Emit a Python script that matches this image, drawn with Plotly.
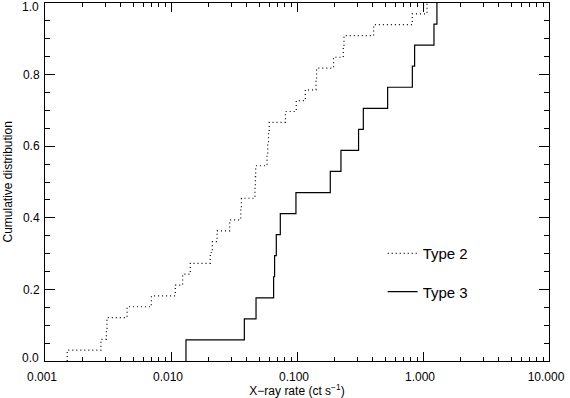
import numpy as np
import plotly.graph_objects as go

# X-ray rates (ct/s), sorted
TYPE2_RATES = [
    0.00150, 0.00278, 0.00307, 0.00310, 0.00448, 0.00698, 0.01082, 0.01236,
    0.01423, 0.0205, 0.0213, 0.0232, 0.0292, 0.0358, 0.0362, 0.0464,
    0.0467, 0.0470, 0.0578, 0.0586, 0.0594, 0.0602, 0.0810, 0.0987,
    0.1164, 0.1415, 0.1430, 0.195, 0.233, 0.236, 0.4055, 0.822, 1.076,
]
TYPE3_RATES = [
    0.01315, 0.0382, 0.0473, 0.0652, 0.0664, 0.0685, 0.0737, 0.0981,
    0.1837, 0.2233, 0.308, 0.336, 0.524, 0.823, 0.858, 1.222, 1.29,
]

X_TICKS = [0.001, 0.01, 0.1, 1, 10]
X_TICKTEXT = ["0.001", "0.010", "0.100", "1.000", "10.000"]
X_MINOR = [m * d for d in (0.001, 0.01, 0.1, 1) for m in range(2, 10)]

Y_TICKS = [0.2, 0.4, 0.6, 0.8]
Y_TICKTEXT = ["0.2", "0.4", "0.6", "0.8"]
# end labels are nudged inward like the original, so they are drawn as annotations
Y_END_LABELS = [(0.0, "0.0", 3), (1.0, "1.0", -4)]

FONT = "Liberation Sans, Arial, Helvetica, sans-serif"


def ecdf(rates):
    """Step-curve points: start at 0, rise at each sorted rate."""
    x = np.sort(np.asarray(rates, dtype=float))
    y = np.arange(1, len(x) + 1) / len(x)
    return np.concatenate([[x[0]], x]), np.concatenate([[0.0], y])


fig = go.Figure()

x2, y2 = ecdf(TYPE2_RATES)
fig.add_trace(
    go.Scatter(
        x=x2, y=y2, mode="lines", name="Type 2", line_shape="hv",
        line=dict(color="black", width=1.2, dash="1px,3px"),
        legend="legend",
    )
)
x3, y3 = ecdf(TYPE3_RATES)
fig.add_trace(
    go.Scatter(
        x=x3, y=y3, mode="lines", name="Type 3", line_shape="hv",
        line=dict(color="black", width=1.2),
        legend="legend2",
    )
)

axis_common = dict(
    showline=True, linecolor="black", linewidth=1, mirror="allticks",
    ticks="inside", tickcolor="black", showgrid=False, zeroline=False,
    tickfont=dict(family=FONT, size=12, color="black"),
    ticklabeloverflow="allow",
)

fig.update_xaxes(
    type="log", range=[-3, 1], tickvals=X_TICKS, ticktext=X_TICKTEXT,
    ticklen=9, tickwidth=1, ticklabelstandoff=5, ticklabelshift=-3,
    minor=dict(tickvals=X_MINOR, ticks="inside", ticklen=4, tickcolor="black", showgrid=False),
    title=dict(text="X−ray rate (ct s<sup>−1</sup>)", font=dict(family=FONT, size=12, color="black"), standoff=2),
    **axis_common,
)
fig.update_yaxes(
    range=[0, 1], tickvals=Y_TICKS, ticktext=Y_TICKTEXT, ticklen=10, tickwidth=1,
    ticklabelstandoff=2,
    minor=dict(dtick=0.05, ticks="inside", ticklen=5, tickcolor="black", showgrid=False),
    **axis_common,
)

for yv, txt, shift in Y_END_LABELS:
    fig.add_annotation(
        x=0, xref="paper", xanchor="right", xshift=-4,
        y=yv, yref="y", yanchor="middle", yshift=shift,
        text=txt, showarrow=False,
        font=dict(family=FONT, size=12, color="black"),
    )

fig.add_annotation(
    x=-0.0744, xref="paper", xanchor="center",
    y=0.5, yref="paper", yanchor="middle",
    text="Cumulative distribution", textangle=-90, showarrow=False,
    font=dict(family=FONT, size=12, color="black"),
)

legend_style = dict(
    font=dict(family=FONT, size=15, color="black"),
    bgcolor="rgba(0,0,0,0)", xanchor="left", yanchor="middle", itemwidth=30,
)
fig.update_layout(
    width=570, height=398,
    margin=dict(l=45, r=21, t=3, b=37, autoexpand=False),
    paper_bgcolor="white", plot_bgcolor="white",
    showlegend=True,
    legend=dict(x=0.67, y=0.30, **legend_style),
    legend2=dict(x=0.67, y=0.193, **legend_style),
)

# drop the browser's default body margin so the figure sits at the window origin
fig.write_html(
    "out.html",
    config={"displayModeBar": False},
    post_script="document.body.style.margin='0';",
)
